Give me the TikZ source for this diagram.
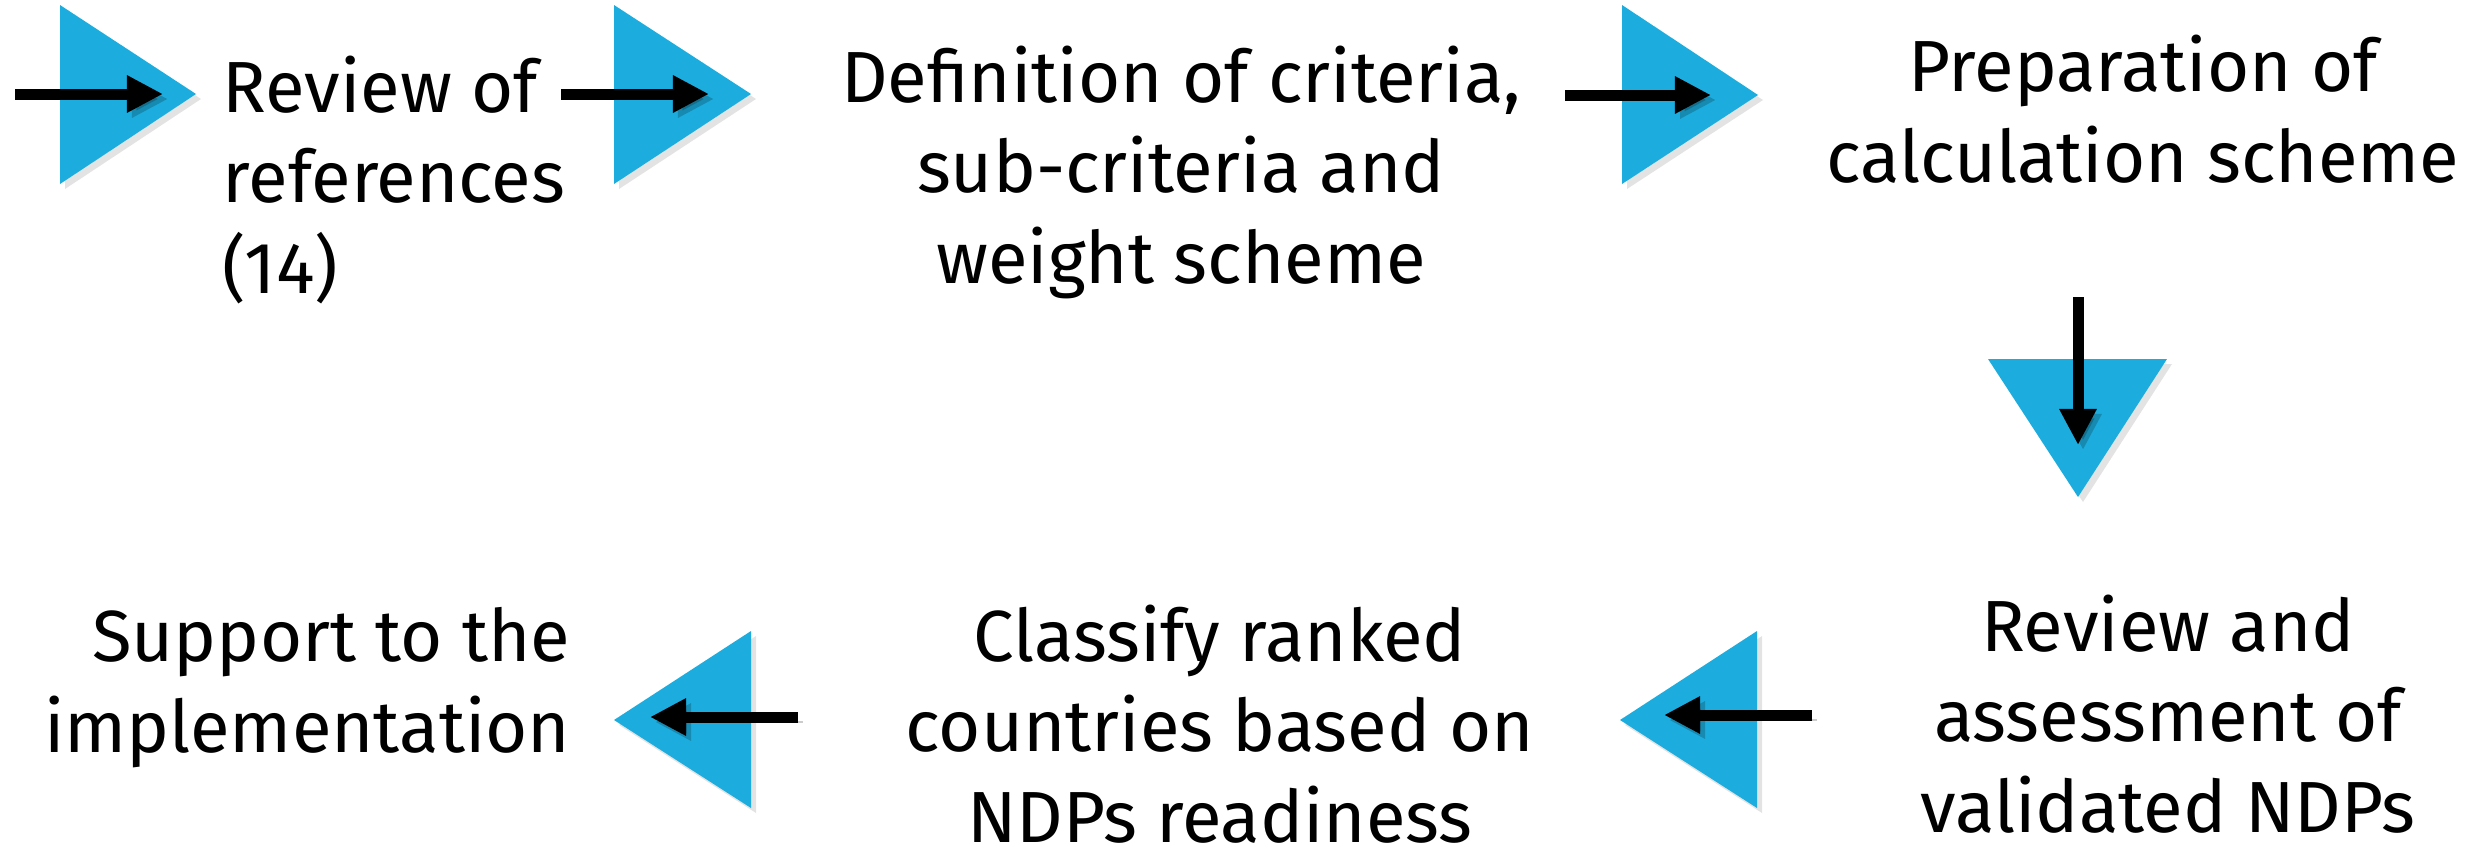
\documentclass[tikz,border=0pt]{standalone}
\usepackage{fontspec}
\setmainfont{Fira Sans}
\usetikzlibrary{arrows.meta,shadows}

\definecolor{stepblue}{RGB}{28,173,222}

\tikzset{
  tri/.style={fill=stepblue, drop shadow={shadow xshift=0.05cm, shadow yshift=-0.05cm, opacity=0.22}},
  flow/.style={line width=0.11cm, -{Triangle[length=0.36cm,width=0.35cm]},
    preaction={draw=black, opacity=0.2, transform canvas={shift={(0.05cm,-0.05cm)}}}},
  lbl/.style={inner sep=0pt, font=\fontsize{20.6}{25.6}\selectfont}
}

\begin{document}
\begin{tikzpicture}[x=0.01cm, y=-0.01cm]
	\useasboundingbox (0,0) rectangle (2478,848);
	% blue triangles
	\fill[tri] (60,5) -- (196,94) -- (60,184) -- cycle;
	\fill[tri] (614,5) -- (751,94) -- (614,184) -- cycle;
	\fill[tri] (1622,5) -- (1758,95) -- (1622,184) -- cycle;
	\fill[tri] (1988,359) -- (2167,359) -- (2078,497) -- cycle;
	\fill[tri] (1757,631) -- (1620,720) -- (1757,808) -- cycle;
	\fill[tri] (751,631) -- (614,720) -- (751,808) -- cycle;
	% steps (base = last line)
	\node[lbl, anchor=base west, align=left] (review) at (222,293) {Review of\\references\\(14)};
	\node[lbl, anchor=base, align=center] (define) at (1181,283) {Definition of criteria,\\sub-criteria and\\weight scheme};
	\node[lbl, anchor=base, align=center] (prepare) at (2143,182) {Preparation of\\calculation scheme};
	\node[lbl, anchor=base, align=center] (assess) at (2168,832) {Review and\\assessment of\\validated NDPs};
	\node[lbl, anchor=base, align=center] (classify) at (1220,842) {Classify ranked\\countries based on\\NDPs readiness};
	\node[lbl, anchor=base east, align=right] (support) at (571,752) {Support to the\\implementation};
	% arrow ends
	\coordinate (s1) at (15,94);    \coordinate (e1) at (163,94);
	\coordinate (s2) at (561,94);   \coordinate (e2) at (709,94);
	\coordinate (s3) at (1565,95);  \coordinate (e3) at (1711,95);
	\coordinate (s4) at (2078,297); \coordinate (e4) at (2078,445);
	\coordinate (s5) at (1812,715); \coordinate (e5) at (1664,715);
	\coordinate (s6) at (798,717);  \coordinate (e6) at (650,717);
	\draw[flow] (s1) -- (e1);
	\draw[flow] (s2) -- (e2);
	\draw[flow] (s3) -- (e3);
	\draw[flow] (s4) -- (e4);
	\draw[flow] (s5) -- (e5);
	\draw[flow] (s6) -- (e6);
\end{tikzpicture}
\end{document}
